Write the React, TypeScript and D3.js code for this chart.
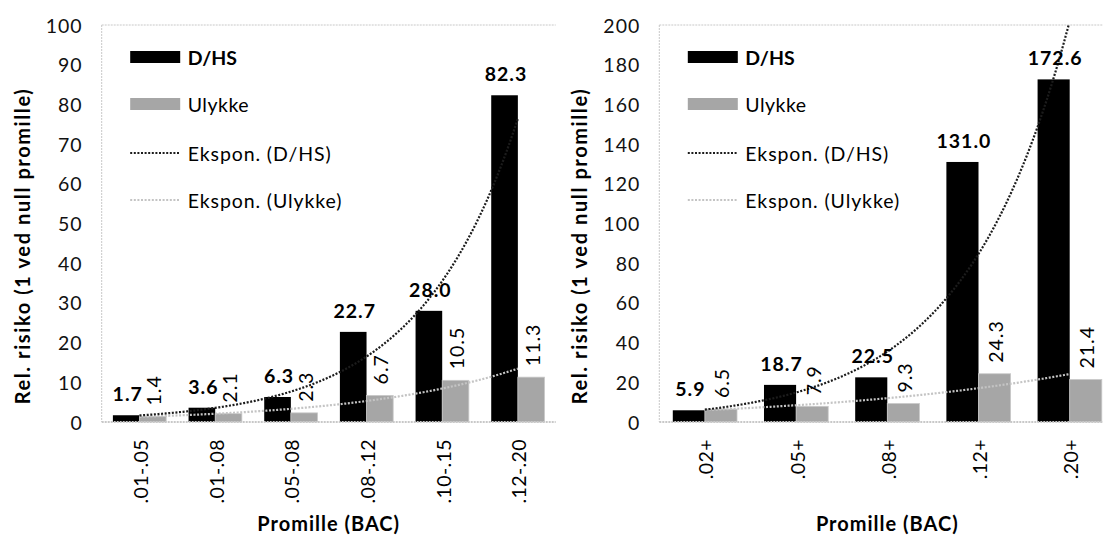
import React from "react";
import * as d3 from "d3";

const leftCategories = [".01-.05", ".01-.08", ".05-.08", ".08-.12", ".10-.15", ".12-.20"];
const leftDHS = [1.7, 3.6, 6.3, 22.7, 28.0, 82.3];
const leftUlykke = [1.4, 2.1, 2.3, 6.7, 10.5, 11.3];
const leftTicks = [0, 10, 20, 30, 40, 50, 60, 70, 80, 90, 100];

const rightCategories = [".02+", ".05+", ".08+", ".12+", ".20+"];
const rightDHS = [5.9, 18.7, 22.5, 131.0, 172.6];
const rightUlykke = [6.5, 7.9, 9.3, 24.3, 21.4];
const rightTicks = [0, 20, 40, 60, 80, 100, 120, 140, 160, 180, 200];

const seriesNames = ["D/HS", "Ulykke"];
const trendNames = ["Ekspon. (D/HS)", "Ekspon. (Ulykke)"];
const yTitle = "Rel. risiko (1 ved null promille)";
const xTitle = "Promille (BAC)";

const FONT = "Lato, 'Open Sans', sans-serif";
const BLACK = "#000000";
const GRAY = "#a6a6a6";
const DARK_TREND = "#1c1c1c";
const LIGHT_TREND = "#c4c4c4";

function expFit(vals: number[]) {
  const n = vals.length;
  const xs = vals.map((_, i) => i + 1);
  const ls = vals.map((v) => Math.log(v));
  const mx = d3.mean(xs)!;
  const ml = d3.mean(ls)!;
  let sxy = 0, sxx = 0;
  for (let i = 0; i < n; i++) {
    sxy += (xs[i] - mx) * (ls[i] - ml);
    sxx += (xs[i] - mx) * (xs[i] - mx);
  }
  const b = sxy / sxx;
  const a = ml - b * mx;
  return (x: number) => Math.exp(a + b * x);
}

type PanelProps = {
  id: string;
  left: number;
  width: number;
  categories: string[];
  dhs: number[];
  ulykke: number[];
  ticks: number[];
};

function Panel({ id, left, width, categories, dhs, ulykke, ticks }: PanelProps) {
  const top = 25;
  const bottom = 422;
  const right = left + width;
  const yMax = ticks[ticks.length - 1];
  const y = d3.scaleLinear().domain([0, yMax]).range([bottom, top]);
  const x = d3.scaleBand<string>().domain(categories).range([left, right]).padding(0);
  const sub = d3
    .scaleBand<string>()
    .domain(seriesNames)
    .range([0, x.bandwidth()])
    .paddingInner(0)
    .paddingOuter(0.42);
  const bw = sub.bandwidth();
  const step = x.step();
  const c0 = x(categories[0])! + x.bandwidth() / 2;

  const trendPath = (vals: number[]) => {
    const f = expFit(vals);
    const n = vals.length;
    const pts: [number, number][] = [];
    for (let k = 0; k <= 200; k++) {
      const xv = 1 + ((n - 1) * k) / 200;
      pts.push([c0 + (xv - 1) * step, y(f(xv))]);
    }
    return d3.line()(pts)!;
  };

  const series = [
    { name: seriesNames[0], vals: dhs, fill: BLACK },
    { name: seriesNames[1], vals: ulykke, fill: GRAY },
  ];

  const lx = left + 28.5;
  const tx = left + 86;
  const legendY = [57, 104, 153, 200];

  return (
    <g>
      <defs>
        <clipPath id={`clip-${id}`}>
          <rect x={left} y={top} width={width} height={bottom - top} />
        </clipPath>
      </defs>
      {/* plot border */}
      <line x1={left} x2={right} y1={top} y2={top} stroke="#c8c8c8" strokeWidth={1} strokeDasharray="2 1" />
      <line x1={left} x2={left} y1={top} y2={bottom} stroke="#c8c8c8" strokeWidth={1} strokeDasharray="2 1" />
      {/* y ticks */}
      {ticks.map((t) => (
        <text
          key={t}
          x={left - 19}
          y={y(t)}
          textAnchor="end"
          dominantBaseline="central"
          fontFamily={FONT}
          fontSize={19.5}
          letterSpacing={1}
          fill="#111"
        >
          {t}
        </text>
      ))}
      {/* bars */}
      {series.map((s) =>
        s.vals.map((v, i) => (
          <rect
            key={s.name + i}
            x={x(categories[i])! + sub(s.name)!}
            y={y(v)}
            width={bw}
            height={bottom - y(v)}
            fill={s.fill}
            stroke={s.fill === GRAY ? "#c9c9c9" : "none"}
            strokeWidth={s.fill === GRAY ? 0.8 : 0}
          />
        ))
      )}
      {/* x axis line */}
      <line x1={left} x2={right} y1={bottom} y2={bottom} stroke="#c8c8c8" strokeWidth={2} strokeDasharray="2 1" />
      {/* trendlines */}
      <g clipPath={`url(#clip-${id})`}>
        <path d={trendPath(ulykke)} fill="none" stroke={LIGHT_TREND} strokeWidth={2.2} strokeDasharray="2 1.6" />
        <path d={trendPath(dhs)} fill="none" stroke={DARK_TREND} strokeWidth={2.2} strokeDasharray="2 1.6" />
      </g>
      {/* data labels */}
      {dhs.map((v, i) => (
        <text
          key={"ld" + i}
          x={x(categories[i])! + sub(seriesNames[0])! + bw / 2 + 1.5}
          y={y(v) - 14}
          textAnchor="middle"
          fontFamily={FONT}
          fontWeight="bold"
          fontSize={19.5}
          letterSpacing={1}
          fill="#000"
        >
          {v.toFixed(1)}
        </text>
      ))}
      {ulykke.map((v, i) => {
        const cx = x(categories[i])! + sub(seriesNames[1])! + bw / 2 + 1;
        const cy = y(v) - 11;
        return (
          <text
            key={"lu" + i}
            transform={`translate(${cx},${cy}) rotate(-90)`}
            textAnchor="start"
            dominantBaseline="central"
            fontFamily={FONT}
            fontSize={19.5}
            letterSpacing={1}
            fill="#000"
          >
            {v.toFixed(1)}
          </text>
        );
      })}
      {/* category labels */}
      {categories.map((c) => {
        const cx = x(c)! + x.bandwidth() / 2 + 1;
        return (
          <text
            key={c}
            transform={`translate(${cx},${439}) rotate(-90)`}
            textAnchor="end"
            dominantBaseline="central"
            fontFamily={FONT}
            fontSize={19.5}
            letterSpacing={0.4}
            fill="#000"
          >
            {c}
          </text>
        );
      })}
      {/* axis titles */}
      <text
        x={(left + right) / 2}
        y={523}
        textAnchor="middle"
        dominantBaseline="central"
        fontFamily={FONT}
        fontWeight="bold"
        fontSize={20}
        letterSpacing={1}
        fill="#000"
      >
        {xTitle}
      </text>
      <text
        transform={`translate(${left - 80},${246}) rotate(-90)`}
        textAnchor="middle"
        dominantBaseline="central"
        fontFamily={FONT}
        fontWeight="bold"
        fontSize={20}
        letterSpacing={1.6}
        fill="#000"
      >
        {yTitle}
      </text>
      {/* legend */}
      <rect x={lx} y={legendY[0] - 6} width={50} height={12} fill={BLACK} />
      <text x={tx} y={legendY[0]} dominantBaseline="central" fontFamily={FONT} fontWeight="bold" fontSize={19.5} fill="#000">
        {seriesNames[0]}
      </text>
      <rect x={lx} y={legendY[1] - 6} width={50} height={12} fill={GRAY} />
      <text x={tx} y={legendY[1]} dominantBaseline="central" fontFamily={FONT} fontSize={19.5} letterSpacing={0.5} fill="#000">
        {seriesNames[1]}
      </text>
      <line x1={lx} x2={lx + 49} y1={legendY[2]} y2={legendY[2]} stroke={DARK_TREND} strokeWidth={2.2} strokeDasharray="2 1.6" />
      <text x={tx} y={legendY[2]} dominantBaseline="central" fontFamily={FONT} fontSize={19.5} letterSpacing={0.9} fill="#000">
        {trendNames[0]}
      </text>
      <line x1={lx} x2={lx + 49} y1={legendY[3]} y2={legendY[3]} stroke={LIGHT_TREND} strokeWidth={2.2} strokeDasharray="2 1.6" />
      <text x={tx} y={legendY[3]} dominantBaseline="central" fontFamily={FONT} fontSize={19.5} letterSpacing={0.9} fill="#000">
        {trendNames[1]}
      </text>
    </g>
  );
}

export default function App() {
  return (
    <svg
      width={1103}
      height={535}
      style={{ position: "absolute", left: 0, top: 0, background: "#fff" }}
    >
      <rect x={0} y={0} width={1103} height={535} fill="#fff" />
      <Panel
        id="l"
        left={101.7}
        width={454}
        categories={leftCategories}
        dhs={leftDHS}
        ulykke={leftUlykke}
        ticks={leftTicks}
      />
      <Panel
        id="r"
        left={659.3}
        width={456}
        categories={rightCategories}
        dhs={rightDHS}
        ulykke={rightUlykke}
        ticks={rightTicks}
      />
    </svg>
  );
}
